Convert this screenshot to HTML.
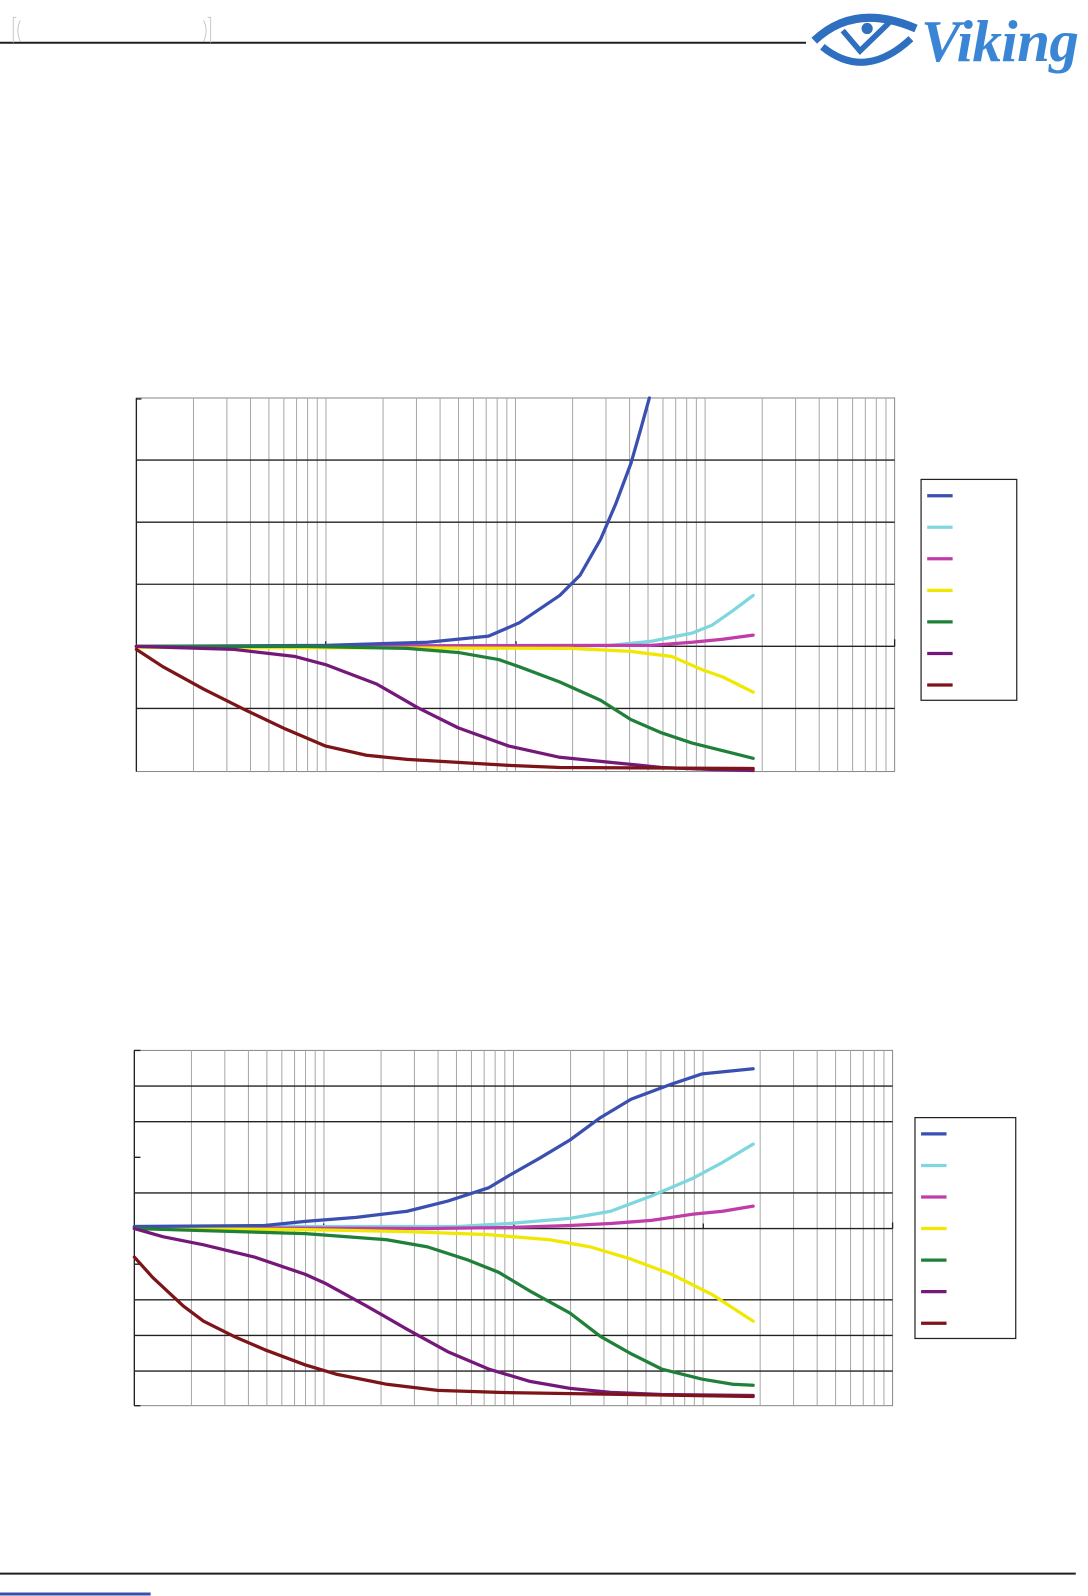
<!DOCTYPE html>
<html><head><meta charset="utf-8"><style>
html,body{margin:0;padding:0;background:#fff;}
svg{display:block;}
</style></head><body>
<svg width="1088" height="1596" viewBox="0 0 1069 1568" preserveAspectRatio="none" xmlns="http://www.w3.org/2000/svg">
<rect width="1069" height="1568" fill="#fff"/>
<!-- header -->
<line x1="0" y1="42" x2="792" y2="42" stroke="#231f20" stroke-width="2"/>
<path d="M13 17 V42 M13 17 H16 M20 20 Q15 30 20 41" stroke="#bbb" stroke-width="0.8" fill="none"/>
<path d="M207 17 V42 M207 17 H204 M200 20 Q205 30 200 41" stroke="#bbb" stroke-width="0.8" fill="none"/>
<g fill="none" stroke="#2f6fc0">
<path d="M800 40 Q840 2 900 28" stroke-width="8"/>
<path d="M808 46 Q850 80 895 38" stroke-width="7"/>
<path d="M828 30 L845 50 L878 18" stroke-width="5.5"/>
</g>
<circle cx="852" cy="28" r="5.5" fill="#2f6fc0"/>
<text x="905" y="60" font-family="Liberation Serif, serif" font-style="italic" font-weight="bold" font-size="58" fill="#3a86d4" textLength="155">Viking</text>

<!-- chart 1 -->
<g>
<rect x="134" y="391" width="745" height="367" fill="#fff" stroke="#888" stroke-width="1"/>
<path stroke="#a8a8a8" stroke-width="1" fill="none" d="M190.1 391V758M222.9 391V758M246.1 391V758M264.2 391V758M278.9 391V758M291.4 391V758M302.2 391V758M311.7 391V758M320.3 391V758M376.4 391V758M409.2 391V758M432.4 391V758M450.5 391V758M465.2 391V758M477.7 391V758M488.5 391V758M498 391V758M506.5 391V758M562.6 391V758M595.4 391V758M618.6 391V758M636.7 391V758M651.4 391V758M663.9 391V758M674.7 391V758M684.2 391V758M692.8 391V758M748.9 391V758M781.7 391V758M804.9 391V758M823 391V758M837.7 391V758M850.2 391V758M861 391V758M870.5 391V758"/>
<path stroke="#222" stroke-width="1.3" fill="none" d="M134 452H879M134 513H879M134 574H879M134 635H879M134 696H879M134 391V758M320 630V635M507 630V635M879 628V635M134 392H139"/>
<g fill="none" stroke-width="3.2" stroke-linejoin="round" stroke-linecap="round">
<polyline stroke="#7ed6de" points="134,635 600,634 640,630 680,622 700,614 720,600 740,585"/>
<polyline stroke="#c03ca8" points="134,635 640,634 680,631 710,628 740,624"/>
<polyline stroke="#f0e800" points="134,636 560,637 620,640 660,645 690,658 710,665 740,680"/>
<polyline stroke="#3a4fb0" points="134,635 320,634 420,631 480,625 510,612 550,585 570,565 590,530 605,495 620,455 630,420 638,391"/>
<polyline stroke="#20803a" points="134,635 300,635 400,637 450,641 490,648 510,655 550,670 590,688 620,707 650,720 680,730 720,740 740,745"/>
<polyline stroke="#74197a" points="134,635 230,638 290,645 320,653 370,672 410,695 450,715 500,733 550,744 600,749 650,754 700,756 740,757"/>
<polyline stroke="#7d1418" points="134,638 160,655 200,677 240,697 280,716 320,733 360,742 400,746 450,749 500,752 550,754 740,755"/>
</g>
<rect x="905" y="471" width="94" height="217" fill="#fff" stroke="#222" stroke-width="1.2"/>
<g stroke-width="3.2">
<line x1="911" x2="936" y1="487" y2="487" stroke="#3a4fb0"/>
<line x1="911" x2="936" y1="518" y2="518" stroke="#7ed6de"/>
<line x1="911" x2="936" y1="549" y2="549" stroke="#c03ca8"/>
<line x1="911" x2="936" y1="580" y2="580" stroke="#f0e800"/>
<line x1="911" x2="936" y1="611" y2="611" stroke="#20803a"/>
<line x1="911" x2="936" y1="642" y2="642" stroke="#74197a"/>
<line x1="911" x2="936" y1="673" y2="673" stroke="#7d1418"/>
</g>
</g>

<!-- chart 2 -->
<g>
<rect x="132" y="1032" width="745" height="349" fill="#fff" stroke="#888" stroke-width="1"/>
<path stroke="#a8a8a8" stroke-width="1" fill="none" d="M188.1 1032V1381M220.9 1032V1381M244.1 1032V1381M262.2 1032V1381M276.9 1032V1381M289.4 1032V1381M300.2 1032V1381M309.7 1032V1381M318.3 1032V1381M374.4 1032V1381M407.2 1032V1381M430.4 1032V1381M448.5 1032V1381M463.2 1032V1381M475.7 1032V1381M486.5 1032V1381M496 1032V1381M504.5 1032V1381M560.6 1032V1381M593.4 1032V1381M616.6 1032V1381M634.7 1032V1381M649.4 1032V1381M661.9 1032V1381M672.7 1032V1381M682.2 1032V1381M690.8 1032V1381M746.9 1032V1381M779.7 1032V1381M802.9 1032V1381M821 1032V1381M835.7 1032V1381M848.2 1032V1381M859 1032V1381M868.5 1032V1381"/>
<path stroke="#222" stroke-width="1.3" fill="none" d="M132 1067H877M132 1102H877M132 1172H877M132 1207H877M132 1277H877M132 1312H877M132 1347H877M132 1032V1381M132 1137H138M132 1242H138M132 1032H138M132 1381H138M318 1202V1207M505 1202V1207M691 1202V1207M877 1201V1207"/>
<g fill="none" stroke-width="3.2" stroke-linejoin="round" stroke-linecap="round">
<polyline stroke="#7ed6de" points="132,1205 450,1205 500,1202 560,1197 600,1190 640,1175 680,1158 710,1142 740,1124"/>
<polyline stroke="#c03ca8" points="132,1206 420,1207 500,1206 560,1204 600,1202 640,1199 680,1193 710,1190 740,1185"/>
<polyline stroke="#f0e800" points="132,1207 300,1208 400,1210 480,1213 540,1218 580,1225 620,1237 660,1252 700,1272 740,1298"/>
<polyline stroke="#3a4fb0" points="132,1205 260,1204 300,1200 350,1196 400,1190 440,1180 480,1167 500,1155 530,1138 560,1120 590,1098 620,1080 660,1065 690,1055 740,1050"/>
<polyline stroke="#20803a" points="132,1207 200,1209 300,1212 380,1218 420,1225 460,1238 490,1250 520,1268 560,1290 590,1313 620,1330 650,1345 690,1355 720,1360 740,1361"/>
<polyline stroke="#74197a" points="132,1207 160,1215 200,1223 250,1235 300,1252 320,1261 360,1283 400,1306 440,1328 480,1345 520,1357 560,1364 600,1368 650,1370 740,1371"/>
<polyline stroke="#7d1418" points="132,1235 150,1255 180,1283 200,1298 230,1313 260,1326 300,1341 330,1350 380,1360 430,1366 490,1368 740,1372"/>
</g>
<rect x="899" y="1098" width="99" height="217" fill="#fff" stroke="#222" stroke-width="1.2"/>
<g stroke-width="3.2">
<line x1="905" x2="930" y1="1114" y2="1114" stroke="#3a4fb0"/>
<line x1="905" x2="930" y1="1145" y2="1145" stroke="#7ed6de"/>
<line x1="905" x2="930" y1="1176" y2="1176" stroke="#c03ca8"/>
<line x1="905" x2="930" y1="1207" y2="1207" stroke="#f0e800"/>
<line x1="905" x2="930" y1="1238" y2="1238" stroke="#20803a"/>
<line x1="905" x2="930" y1="1269" y2="1269" stroke="#74197a"/>
<line x1="905" x2="930" y1="1300" y2="1300" stroke="#7d1418"/>
</g>
</g>

<!-- footer -->
<line x1="0" y1="1546" x2="1057" y2="1546" stroke="#231f20" stroke-width="2"/>
<line x1="0" y1="1566" x2="148" y2="1566" stroke="#3a4fa8" stroke-width="3"/>
</svg>
</body></html>
